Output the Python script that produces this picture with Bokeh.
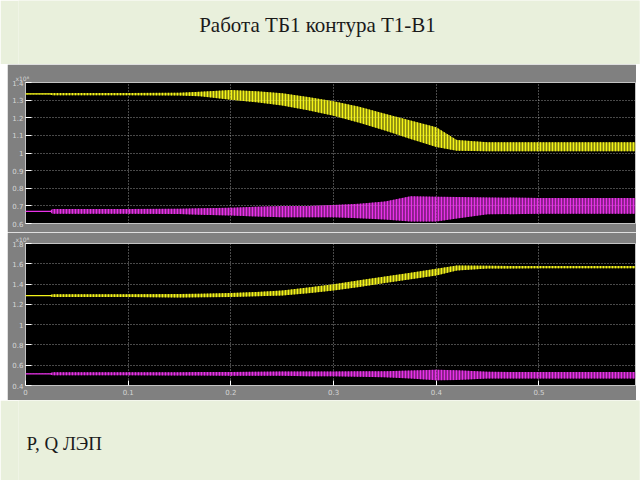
from bokeh.plotting import figure
from bokeh.layouts import column
from bokeh.models import Range1d, FixedTicker
from bokeh.core.properties import value
from bokeh.embed import file_html
from bokeh.resources import INLINE

# ---------------- data ----------------
T = [0, 0.024, 0.026, 0.1, 0.15, 0.17, 0.2, 0.225, 0.25, 0.275, 0.3, 0.325,
     0.35, 0.375, 0.4, 0.42, 0.45, 0.5, 0.55, 0.594]

# upper panel (x1e8): P (yellow) and Q (magenta) envelopes
P1_HI = [1.336, 1.336, 1.341, 1.341, 1.342, 1.347, 1.357, 1.350, 1.339, 1.318, 1.294, 1.262,
         1.222, 1.185, 1.146, 1.074, 1.061, 1.061, 1.061, 1.061]
P1_LO = [1.334, 1.334, 1.327, 1.327, 1.326, 1.322, 1.302, 1.288, 1.269, 1.242, 1.212, 1.172,
         1.127, 1.080, 1.034, 1.013, 1.010, 1.010, 1.010, 1.010]
Q1_HI = [0.670, 0.670, 0.682, 0.682, 0.684, 0.686, 0.690, 0.695, 0.700, 0.700, 0.705, 0.712,
         0.725, 0.755, 0.752, 0.750, 0.748, 0.745, 0.745, 0.745]
Q1_LO = [0.668, 0.668, 0.655, 0.655, 0.654, 0.650, 0.645, 0.640, 0.636, 0.635, 0.635, 0.630,
         0.622, 0.612, 0.612, 0.628, 0.652, 0.655, 0.655, 0.655]

# lower panel (x1e8)
P2_HI = [1.288, 1.288, 1.300, 1.300, 1.302, 1.305, 1.312, 1.322, 1.336, 1.365, 1.398, 1.438,
         1.474, 1.512, 1.550, 1.582, 1.580, 1.578, 1.578, 1.578]
P2_LO = [1.286, 1.286, 1.272, 1.272, 1.268, 1.270, 1.272, 1.280, 1.288, 1.310, 1.336, 1.372,
         1.410, 1.448, 1.484, 1.535, 1.553, 1.555, 1.555, 1.555]
Q2_HI = [0.516, 0.516, 0.530, 0.530, 0.531, 0.532, 0.533, 0.535, 0.538, 0.538, 0.538, 0.540,
         0.540, 0.548, 0.555, 0.550, 0.535, 0.532, 0.532, 0.532]
Q2_LO = [0.514, 0.514, 0.500, 0.500, 0.499, 0.498, 0.497, 0.496, 0.496, 0.492, 0.490, 0.487,
         0.482, 0.470, 0.452, 0.455, 0.468, 0.470, 0.470, 0.470]

X_TICKS = [0, 0.1, 0.2, 0.3, 0.4, 0.5]
X_LABELS = ["0", "0.1", "0.2", "0.3", "0.4", "0.5"]
Y1_TICKS = [0.6, 0.7, 0.8, 0.9, 1, 1.1, 1.2, 1.3, 1.4]
Y1_LABELS = ["0.6", "0.7", "0.8", "0.9", "1", "1.1", "1.2", "1.3", "1.4"]
Y2_TICKS = [0.4, 0.6, 0.8, 1, 1.2, 1.4, 1.6, 1.8]
Y2_LABELS = ["0.4", "0.6", "0.8", "1", "1.2", "1.4", "1.6", "1.8"]

TITLE = "Работа ТБ1 контура Т1-В1"
FOOTER = "P, Q ЛЭП"
SCALE = "x10\u2078"

# ---------------- styles ----------------
PAGE_BG = "#e9f0dc"
FRAME_GRAY = "#808080"
YELLOW = "#f4f41a"
MAGENTA = "#e832e8"
TICK_TXT = "#d6d6d6"
W = 640
PW = 629
BL, BR = 18, 1   # panel borders (column aligns these across children)


def text_fig(h, txt, x, y, size, align):
    f = figure(width=W, height=h, x_range=Range1d(0, 1), y_range=Range1d(0, 1),
               output_backend="svg", toolbar_location=None,
               x_axis_location=None, y_axis_location=None,
               min_border_left=BL, min_border_right=BR, min_border_top=0,
               min_border_bottom=0,
               background_fill_color=PAGE_BG, border_fill_color=PAGE_BG,
               outline_line_color=None)
    f.grid.visible = False
    f.text(x=[x], y=[y], text=[txt], text_font=value("Liberation Serif"),
           text_font_size=size, text_color="#1a1a1a", text_align=align,
           text_baseline="middle")
    return f


def panel(y0, y1, yt, yl, show_x, top, bottom, frame_h):
    p = figure(width=PW, height=top + bottom + frame_h,
               x_range=Range1d(0, 0.594), y_range=Range1d(y0, y1),
               output_backend="svg", toolbar_location=None,
               background_fill_color="black", border_fill_color=FRAME_GRAY,
               outline_line_color="#c4c4c4", outline_line_width=1,
               min_border_left=BL, min_border_right=BR,
               min_border_top=top, min_border_bottom=bottom,
               margin=(0, 4, 0, 7))
    p.title.text = SCALE
    p.title.align = "left"
    p.title.offset = -10
    p.title.standoff = 1
    p.title.text_font_size = "6px"
    p.title.text_font_style = "normal"
    p.title.text_color = TICK_TXT
    p.title.text_font = "DejaVu Sans"

    p.yaxis.ticker = FixedTicker(ticks=yt)
    p.yaxis.major_label_overrides = {t: l for t, l in zip(yt, yl)}
    p.yaxis.minor_tick_line_color = None
    p.yaxis.major_tick_in = 6
    p.yaxis.major_tick_out = 0
    p.yaxis.major_tick_line_color = "white"
    p.yaxis.axis_line_color = None
    p.yaxis.major_label_text_font_size = "7px"
    p.yaxis.major_label_text_color = TICK_TXT
    p.yaxis.major_label_standoff = 2
    p.yaxis.major_label_text_font = "DejaVu Sans"

    p.xaxis.ticker = FixedTicker(ticks=X_TICKS)
    p.xaxis.major_label_overrides = {t: l for t, l in zip(X_TICKS, X_LABELS)}
    p.xaxis.minor_tick_line_color = None
    p.xaxis.major_tick_in = 5
    p.xaxis.major_tick_out = 0
    p.xaxis.major_tick_line_color = "white"
    p.xaxis.axis_line_color = None
    p.xaxis.major_label_text_font_size = "7px"
    p.xaxis.major_label_text_color = TICK_TXT
    p.xaxis.major_label_standoff = 3
    p.xaxis.major_label_text_font = "DejaVu Sans"
    if not show_x:
        p.xaxis.visible = False

    p.xgrid.ticker = FixedTicker(ticks=X_TICKS)
    p.ygrid.ticker = FixedTicker(ticks=yt)
    p.grid.grid_line_color = "#d0d0d0"
    p.grid.grid_line_dash = "1 2"
    p.grid.grid_line_alpha = 0.7
    p.grid.grid_line_width = 1
    return p


def band(p, lo, hi, color):
    p.varea(x=T, y1=lo, y2=hi, fill_color=color, fill_alpha=0.6,
            hatch_pattern="vertical_line", hatch_color=color, hatch_scale=3,
            hatch_weight=1.2)
    p.line(x=T[:3], y=[(a + b) / 2 for a, b in zip(lo[:3], hi[:3])],
           line_color=color, line_width=1.2)


head = text_fig(64, TITLE, 0.4815, 0.625, "21px", "center")

p1 = panel(0.6, 1.4, Y1_TICKS, Y1_LABELS, False, 18, 9, 141)
band(p1, P1_LO, P1_HI, YELLOW)
band(p1, Q1_LO, Q1_HI, MAGENTA)

p2 = panel(0.4, 1.8, Y2_TICKS, Y2_LABELS, True, 11, 15, 142)
band(p2, P2_LO, P2_HI, YELLOW)
band(p2, Q2_LO, Q2_HI, MAGENTA)

foot = text_fig(80, FOOTER, 0.0129, 0.459, "19px", "left")

layout = column(head, p1, p2, foot, spacing=0)

html = file_html(layout, INLINE)
html = html.replace("<body>", '<body style="background-color:%s;">' % PAGE_BG, 1)
open("out.html", "w").write(html)
